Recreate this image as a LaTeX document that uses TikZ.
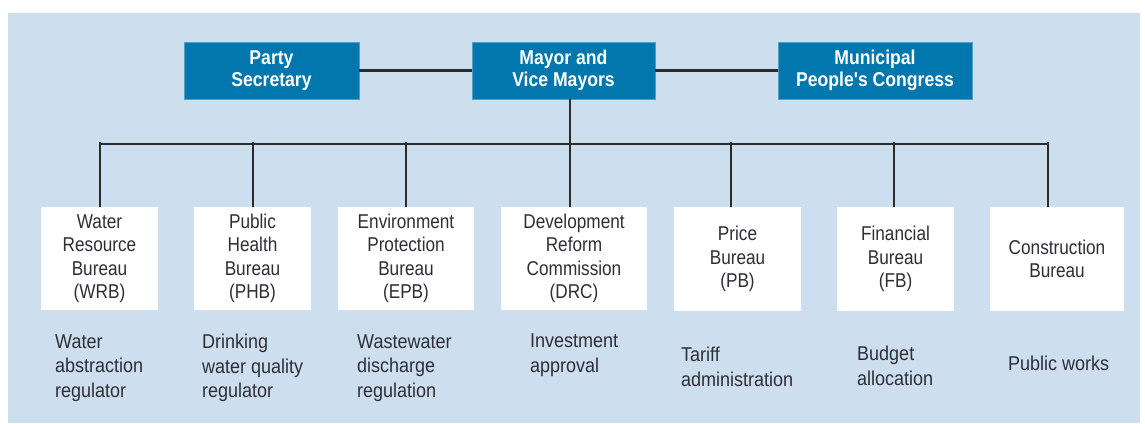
\documentclass[tikz,border=0pt]{standalone}
\usepackage{fontspec}
\setmainfont{Liberation Sans}[FakeStretch=0.86]
\newfontfamily\unitfont{Liberation Sans}[FakeStretch=0.86]
\newfontfamily\rolefont{Liberation Sans}[FakeStretch=0.9]
\newfontfamily\headfont{Liberation Sans}[FakeStretch=0.88,BoldFont={Liberation Sans Bold}]
\definecolor{panel}{HTML}{CDDFEE}
\definecolor{headblue}{HTML}{0277AD}
\definecolor{ink}{HTML}{2E2E38}
\definecolor{wire}{HTML}{2B2B2B}
\begin{document}
\begin{tikzpicture}[x=1pt,y=-1pt,
  headbox/.style={fill=headblue, draw=headblue!70!white, line width=0.6pt, text=white,
    font=\headfont\bfseries\fontsize{20}{22}\selectfont, align=center, inner sep=0pt},
  unitbox/.style={fill=white, text=ink, font=\unitfont\fontsize{20}{23.5}\selectfont,
    align=center, inner sep=0pt},
  role/.style={text=ink, font=\rolefont\fontsize{20}{24.5}\selectfont, align=left,
    anchor=west, inner sep=0pt},
  wireline/.style={draw=wire, line width=2.1pt}]
% canvas and panel
\useasboundingbox (0,0) rectangle (1145,423);
\fill[white] (0,0) rectangle (1145,423);
\fill[panel] (8,13) rectangle (1140,423);

% leadership row
\node[headbox, minimum width=175, minimum height=57] (party) at (271.5,70.5) {Party\\Secretary};
\node[headbox, minimum width=183, minimum height=57] (mayor) at (563.5,70.5) {Mayor and\\Vice Mayors};
\node[headbox, minimum width=194, minimum height=57] (congress) at (875,70.5) {Municipal\\People's Congress};

% bureaus
\node[unitbox, minimum width=117, minimum height=103] (wrb) at (99.5,258.5) {Water\\Resource\\Bureau\\(WRB)};
\node[unitbox, minimum width=117, minimum height=103] (phb) at (252.5,258.5) {Public\\Health\\Bureau\\(PHB)};
\node[unitbox, minimum width=136, minimum height=103] (epb) at (406,258.5) {Environment\\Protection\\Bureau\\(EPB)};
\node[unitbox, minimum width=146, minimum height=103] (drc) at (574,258.5) {Development\\Reform\\Commission\\(DRC)};
\node[unitbox, minimum width=127, minimum height=104] (pb) at (737.5,259) {Price\\Bureau\\(PB)};
\node[unitbox, minimum width=117, minimum height=104] (fb) at (895.5,259) {Financial\\Bureau\\(FB)};
\node[unitbox, minimum width=134, minimum height=104] (cb) at (1057,259) {Construction\\Bureau};

% roles
\node[role] (rwrb) at (55,368) {Water\\abstraction\\regulator};
\node[role] (rphb) at (202,368) {Drinking\\water quality\\regulator};
\node[role] (repb) at (357,368) {Wastewater\\discharge\\regulation};
\node[role] (rdrc) at (530,355) {Investment\\approval};
\node[role] (rpb) at (681,367) {Tariff\\administration};
\node[role] (rfb) at (857,366) {Budget\\allocation};
\node[role] (rcb) at (1008,363) {Public works};

% connectors between leadership boxes
\draw[wireline] (party.east) -- (mayor.west);
\draw[wireline] (mayor.east) -- (congress.west);

% bus and drops
\coordinate (busL) at (100,144);
\coordinate (busR) at (1048,144);
\coordinate (d1) at (100,141.5);
\coordinate (d2) at (253,141.5);
\coordinate (d3) at (406,141.5);
\coordinate (d4) at (570,141.5);
\coordinate (d5) at (731,141.5);
\coordinate (d6) at (894,141.5);
\coordinate (d7) at (1048,141.5);
\draw[wireline] (busL) -- (busR);
\draw[wireline] (d4 |- mayor.south) -- (d4 |- drc.north);
\draw[wireline] (d1) -- (d1 |- wrb.north);
\draw[wireline] (d2) -- (d2 |- phb.north);
\draw[wireline] (d3) -- (d3 |- epb.north);
\draw[wireline] (d5) -- (d5 |- pb.north);
\draw[wireline] (d6) -- (d6 |- fb.north);
\draw[wireline] (d7) -- (d7 |- cb.north);
\end{tikzpicture}
\end{document}
